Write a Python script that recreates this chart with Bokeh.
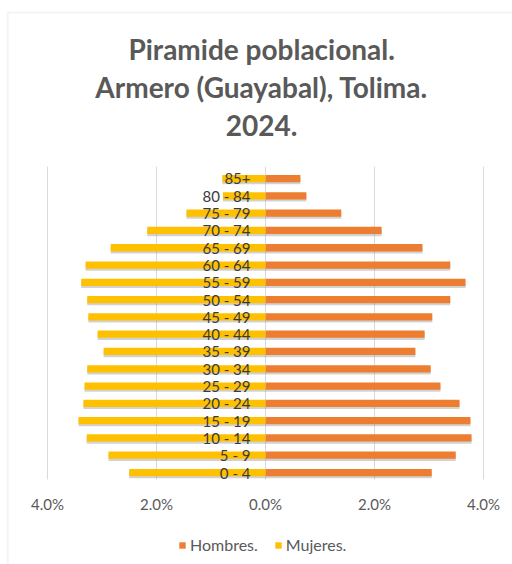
from bokeh.plotting import figure
from bokeh.models import (ColumnDataSource, Legend, LegendItem, Range1d,
                          BoxAnnotation)
from bokeh.core.properties import value
from bokeh.embed import file_html
from bokeh.resources import INLINE

age_groups = ["0 - 4", "5 - 9", "10 - 14", "15 - 19", "20 - 24", "25 - 29",
              "30 - 34", "35 - 39", "40 - 44", "45 - 49", "50 - 54", "55 - 59",
              "60 - 64", "65 - 69", "70 - 74", "75 - 79", "80 - 84", "85+"]
hombres = [3.05, 3.49, 3.78, 3.76, 3.56, 3.21, 3.03, 2.75, 2.92, 3.06,
           3.39, 3.67, 3.39, 2.88, 2.13, 1.39, 0.75, 0.64]
mujeres = [2.50, 2.88, 3.28, 3.43, 3.34, 3.32, 3.27, 2.97, 3.08, 3.25,
           3.27, 3.38, 3.30, 2.84, 2.17, 1.45, 0.78, 0.79]
x_ticks = [-4, -2, 0, 2, 4]
tick_labels = [f"{abs(t):.1f}%" for t in x_ticks]
title_lines = ["Piramide poblacional.", "Armero (Guayabal), Tolima.", "2024."]

FONT = "Lato"
GRAY = "#595959"

n = len(age_groups)
ypos = list(range(n))
src = ColumnDataSource(dict(
    y=ypos,
    ys=[v - 0.12 for v in ypos],
    label=age_groups,
    h=hombres,
    m=[-v for v in mujeres],
))

# whole canvas is the plot frame; layout positions in data units
p = figure(width=512, height=564, output_backend="svg", toolbar_location=None,
           x_range=Range1d(-4.862, 4.532), y_range=Range1d(-5.32, 27.30),
           x_axis_location=None, y_axis_location=None,
           min_border=0, outline_line_color=None)
p.xgrid.visible = False
p.ygrid.visible = False
p.background_fill_color = "white"
p.border_fill_color = "white"

# chart border (top and left edges visible)
p.add_layout(BoxAnnotation(left=-4.73, right=20, top=26.6, bottom=-40,
                           fill_alpha=0, line_color="#dcdcdc", line_width=2))

# title
p.text(x=[-0.07] * 3, y=[24.52, 22.27, 20.07], text=title_lines,
       text_align="center", text_baseline="middle",
       text_font=value(FONT), text_font_size="28px", text_font_style="bold",
       text_color=GRAY)

# vertical gridlines
y_lo, y_hi = -0.40, n - 0.31
p.segment(x0=x_ticks, x1=x_ticks, y0=[y_lo] * len(x_ticks),
          y1=[y_hi] * len(x_ticks), line_color="#d9d9d9", line_width=1)

# tick labels
p.text(x=x_ticks, y=[-1.8] * len(x_ticks), text=tick_labels,
       text_align="center", text_baseline="middle",
       text_font=value(FONT), text_font_size="15px", text_color=GRAY)

# shadows
p.hbar(y="ys", left=0, right="h", height=0.42, source=src,
       fill_color="#7f7f7f", fill_alpha=0.35, line_color=None)
p.hbar(y="ys", left="m", right=0, height=0.42, source=src,
       fill_color="#7f7f7f", fill_alpha=0.35, line_color=None)

rh = p.hbar(y="y", left=0, right="h", height=0.42, source=src,
            fill_color="#ED7D31", line_color=None)
rm = p.hbar(y="y", left="m", right=0, height=0.42, source=src,
            fill_color="#FFC000", line_color=None)

# age group labels
p.text(x=0, y="y", text="label", source=src, x_offset=-15,
       text_align="right", text_baseline="middle",
       text_font=value(FONT), text_font_size="15px", text_color="#3a3a3a")

legend = Legend(items=[LegendItem(label="Hombres.", renderers=[rh]),
                       LegendItem(label="Mujeres.", renderers=[rm])],
                orientation="horizontal", location=(178, 10),
                border_line_color=None, background_fill_alpha=0,
                label_text_font=FONT, label_text_font_size="16px",
                label_text_color=GRAY, glyph_width=8, glyph_height=8,
                spacing=16, label_standoff=4, margin=0, padding=4)
p.add_layout(legend, "center")

open("out.html", "w").write(file_html(p, INLINE))
